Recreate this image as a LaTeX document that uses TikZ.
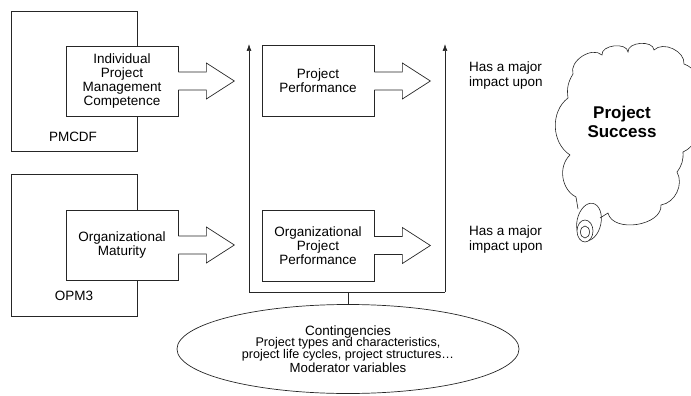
\documentclass[tikz,border=0pt]{standalone}
\usepackage{fontspec}
\setmainfont{Liberation Sans}
\usetikzlibrary{shapes.geometric,arrows.meta,calc}
\begin{document}
\begin{tikzpicture}[x=1pt,y=-1pt,
  line/.style={draw=black!85,line width=0.7pt},
  outerbox/.style={line,fill=white,minimum width=126pt,minimum height=140pt,inner sep=0pt},
  innerbox/.style={line,fill=white,minimum width=112pt,minimum height=70pt,inner sep=0pt,align=center,font=\fontsize{13.5}{13.8}\selectfont},
  lbl/.style={font=\fontsize{13.5}{15}\selectfont,inner sep=0pt},
  upar/.style={line,-{Latex[length=7pt,width=5pt]}}
]
\useasboundingbox (0,0) rectangle (691,396);
\newcommand\blockarr[1]{%
  \fill[white] ($(#1.east)+(-1,-8.6)$) rectangle ($(#1.east)+(28,8.6)$);
  \draw[line,line join=miter] ($(#1.east)+(0,-9)$) -- ++(28,0) -- ++(0,-9) -- ++(28,18) -- ++(-28,18) -- ++(0,-9) -- ++(-28,0);}

% outer boxes
\node[outerbox] (pmcdf) at (74,81) {};
\node[lbl,anchor=center] (pmcdfl) at (73,137) {PMCDF};
\node[outerbox,minimum height=142pt] (opm) at (74,245) {};
\node[lbl] (opml) at (74,296) {OPM3};

% inner boxes
\node[innerbox] (ipmc) at (122,81) {Individual\\Project\\Management\\Competence};
\blockarr{ipmc}
\node[innerbox] (om) at (122,245) {Organizational\\Maturity};
\blockarr{om}

\node[innerbox,minimum height=71pt] (pp) at (318,81) {Project\\Performance};
\blockarr{pp}
\node[innerbox,minimum height=71pt] (opp) at (318,245.5) {Organizational\\Project\\Performance};
\blockarr{opp}

% frame arrows
\coordinate (bl) at (249,292);
\coordinate (br) at (445,292);
\coordinate (tl) at (249,44);
\coordinate (tr) at (445,44);
\draw[upar] (bl) -- (tl);
\draw[upar] (br) -- (tr);
\draw[line] (bl) -- (br);

% ellipse
\node[ellipse,line,minimum width=342pt,minimum height=89pt,inner sep=0pt,align=center] (ell) at (348,349)
 {{\fontsize{13.5}{12.5}\selectfont Contingencies}\\[-0.5pt]
  {\fontsize{12.6}{12.5}\selectfont Project types and characteristics,}\\
  {\fontsize{12.6}{12.5}\selectfont project life cycles, project structures\dots}\\[0.5pt]
  {\fontsize{13.2}{12.5}\selectfont Moderator variables}};
\draw[line] (ell.north) -- (ell.north |- bl);

% impact labels
\node[lbl,anchor=west,align=left] (imp1) at (469,75.5) {Has a major\\impact upon};
\node[lbl,anchor=west,align=left] (imp2) at (469,240) {Has a major\\impact upon};

% cloud
\draw[line,line width=0.6pt]
  (576,197) to[bend left=55] (570,155)
  to[bend left=55] (568,98)
  to[bend left=20] (573,74)
  to[bend left=75] (602,55)
  to[bend left=90] (628,52)
  to[bend left=90] (654,50)
  to[bend left=70] (684,64)
  to[bend left=60] (694,118)
  to[bend left=50] (683,152)
  to[bend left=20] (677,172)
  to[bend left=55] (661,205)
  to[bend left=85] (608,213)
  -- (600,218);
\draw[line,line width=0.6pt] (576,197) -- (578,209);
\draw[line,line width=0.6pt,rotate around={-12:(589,222)}] (589,222) ellipse [x radius=12pt,y radius=19pt];
\draw[line,line width=0.6pt,fill=white] (585,231) ellipse [x radius=8pt,y radius=11pt];
\draw[line,line width=0.6pt] (585,232) ellipse [x radius=4.5pt,y radius=6pt];
\node[font=\bfseries\fontsize{17}{19}\selectfont,align=center] (succ) at (622,122) {Project\\Success};
\end{tikzpicture}
\end{document}
